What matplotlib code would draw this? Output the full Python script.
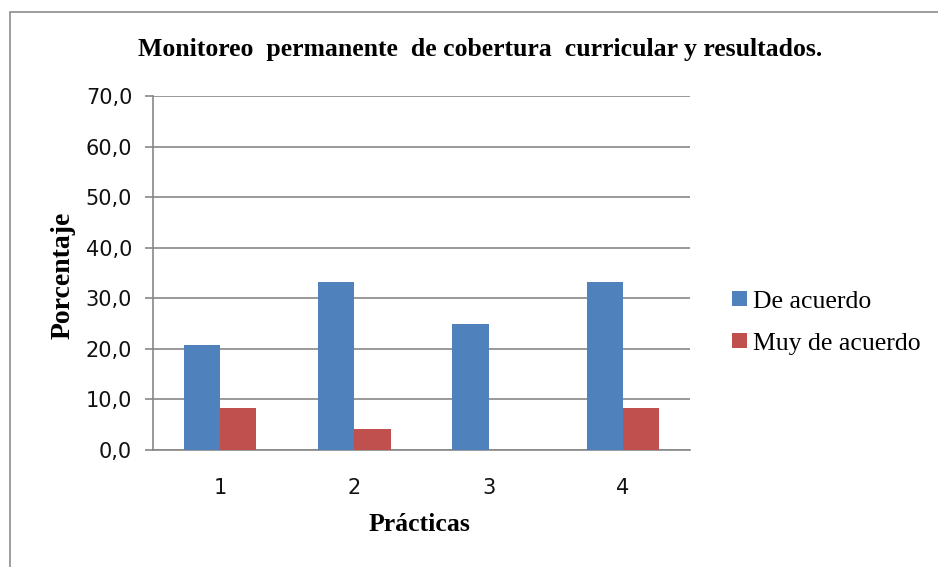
import matplotlib
matplotlib.use("Agg")
import matplotlib.pyplot as plt
import numpy as np

practicas = ["1", "2", "3", "4"]
de_acuerdo = [20.8, 33.3, 25.0, 33.3]
muy_de_acuerdo = [8.3, 4.2, 0.0, 8.3]
yticks = [0, 10, 20, 30, 40, 50, 60, 70]

BLUE = "#4F81BD"
RED = "#C0504D"
GRID = "#878787"

fig = plt.figure(figsize=(9.38, 5.67), dpi=100)
ax = fig.add_axes([0.1631, 0.2063, 0.5725, 0.6244])

# outer chart frame
fig.patches.append(plt.Rectangle((10 / 938, -0.05), 1.2, 1 - 12 / 567 + 0.05,
                                 transform=fig.transFigure, fill=False,
                                 edgecolor="#8c8c8c", linewidth=1.2))

x = np.arange(len(practicas))
w = 0.27
ax.bar(x - w / 2, de_acuerdo, w, color=BLUE, label="De acuerdo", zorder=3)
ax.bar(x + w / 2, muy_de_acuerdo, w, color=RED, label="Muy de acuerdo", zorder=3)

ax.set_xlim(-0.5, len(practicas) - 0.5)
ax.set_ylim(0, 70)
ax.set_yticks(yticks)
ax.set_yticklabels([f"{v:.1f}".replace(".", ",") for v in yticks],
                   fontname="DejaVu Sans", fontsize=15, color="#111111")
ax.set_xticks(x)
ax.set_xticklabels(practicas, fontname="DejaVu Sans", fontsize=15,
                   color="#111111")
ax.tick_params(axis="y", length=6, color=GRID, width=1.2, pad=9)
ax.tick_params(axis="x", length=0, pad=20)

ax.yaxis.grid(True, color=GRID, linewidth=1.2, zorder=0)
for side in ["top", "right"]:
    ax.spines[side].set_visible(False)
for side in ["left", "bottom"]:
    ax.spines[side].set_color(GRID)
    ax.spines[side].set_linewidth(1.2)

fig.text(0.512, 0.912, "Monitoreo  permanente  de cobertura  curricular y resultados.",
         ha="center", va="center", fontname="Liberation Serif",
         fontweight="bold", fontsize=18.5)
ax.set_ylabel("Porcentaje", fontname="Liberation Serif", fontweight="bold",
              fontsize=20, va="center")
ax.yaxis.set_label_coords(-0.168, 0.494)
ax.set_xlabel("Prácticas", fontname="Liberation Serif", fontweight="bold",
              fontsize=18.5, va="center")
ax.xaxis.set_label_coords(0.497, -0.209)

ax.legend(loc="center left", bbox_to_anchor=(1.055, 0.36), frameon=False,
          prop={"family": "Liberation Serif", "size": 18.5},
          handlelength=0.55, handleheight=0.55, handletextpad=0.25,
          labelspacing=0.78, borderpad=0)

fig.savefig("out.png", dpi=100, facecolor="white")
